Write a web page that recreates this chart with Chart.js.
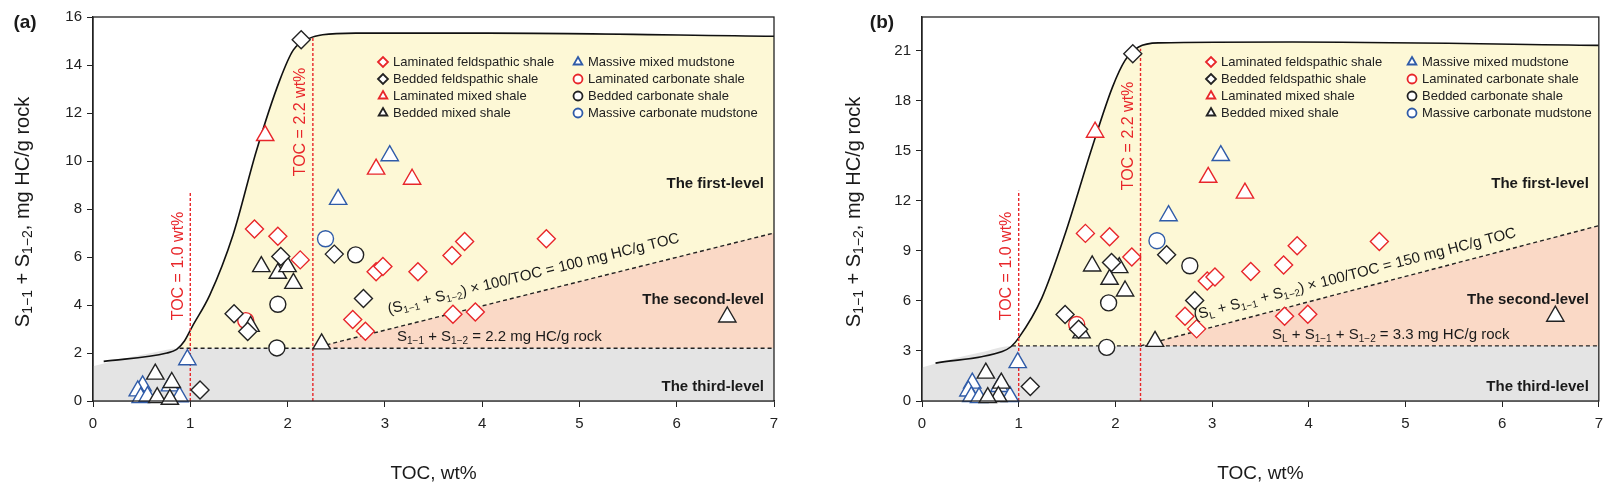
<!DOCTYPE html>
<html>
<head>
<meta charset="utf-8">
<script src="https://cdn.jsdelivr.net/npm/chart.js@4/dist/chart.umd.min.js"></script>
<style>
  body { margin: 0; background: #fff; }
  .wrap { position: absolute; top: 0; height: 484px; }
</style>
</head>
<body>
<div class="wrap" style="left:0;width:806px"><canvas id="chartA" width="806" height="484"></canvas></div>
<div class="wrap" style="left:806px;width:805px"><canvas id="chartB" width="805" height="484"></canvas></div>
<script>
// ---- data ----
const xTicks = [0, 1, 2, 3, 4, 5, 6, 7];
const yTicksA = [0, 2, 4, 6, 8, 10, 12, 14, 16];
const yTicksB = [0, 3, 6, 9, 12, 15, 18, 21];

const seriesNames = ['Laminated feldspathic shale', 'Bedded feldspathic shale', 'Laminated mixed shale', 'Bedded mixed shale',
    'Massive mixed mudstone', 'Laminated carbonate shale', 'Bedded carbonate shale', 'Massive carbonate mudstone'];

// panel (a)
const lamFeldA = [[1.66,7.17],[1.90,6.86],[2.13,5.88],[2.67,3.40],[2.80,2.91],[2.91,5.39],[2.98,5.60],[3.34,5.39],[3.69,6.06],[3.82,6.65],[3.70,3.61],[3.93,3.71],[4.66,6.76]];
const bedFeldA = [[2.14,15.05],[1.93,6.02],[2.48,6.12],[2.78,4.27],[1.45,3.64],[1.59,2.90],[1.10,0.46]];
const lamMixA = [[1.77,11.06],[2.91,9.66],[3.28,9.24]];
const bedMixA = [[1.73,5.60],[1.90,5.32],[2.00,5.60],[2.06,4.90],[1.62,3.11],[2.35,2.38],[0.64,1.12],[0.81,0.77],[0.66,0.14],[0.79,0.07],[6.52,3.50]];
const masMixA = [[2.52,8.40],[3.05,10.22],[0.97,1.72],[0.51,0.63],[0.46,0.42],[0.49,0.14],[0.56,0.18],[0.79,0.63],[0.89,0.18]];
const lamCarbA = [[1.57,3.35]];
const bedCarbA = [[1.90,4.03],[2.70,6.09],[1.89,2.21]];
const masCarbA = [[2.39,6.76]];
const curveA = [[0.11,1.65],[0.76,2.00],[0.86,2.15],[0.94,2.5],[1.02,3.1],[1.2,4.41],[1.44,6.93],[1.68,10.43],[1.92,13.37],[2.06,14.63],[2.23,15.12],[2.36,15.26],[2.7,15.33],[4.06,15.33],[7,15.2]];
const greyTopA = [[0,1.45],[0.3,1.75],[0.6,2.0],[0.89,2.2],[7,2.2]];
const levelA = 2.2;   // S1-1 + S1-2 = 2.2
const ratioA = 1.0;   // 100 mg HC/g TOC
const tocLine1A = 8.75, tocLine2A = 15.15;

// panel (b)
const lamFeldB = [[1.69,10.04],[1.94,9.84],[2.17,8.63],[2.95,7.19],[3.03,7.43],[3.40,7.75],[3.74,8.15],[3.88,9.30],[4.73,9.56],[2.72,5.08],[2.84,4.32],[3.75,5.07],[3.99,5.19]];
const bedFeldB = [[2.18,20.8],[1.96,8.29],[2.53,8.76],[2.82,6.02],[1.48,5.18],[1.62,4.30],[1.12,0.87]];
const lamMixB = [[1.79,16.1],[2.96,13.4],[3.34,12.45]];
const bedMixB = [[1.76,8.09],[2.04,7.99],[1.94,7.29],[2.10,6.59],[1.65,4.08],[2.41,3.57],[0.66,1.67],[0.82,1.07],[0.79,0.26],[0.68,0.20],[6.55,5.08]];
const masMixB = [[2.55,11.1],[3.09,14.7],[0.99,2.30],[0.52,1.07],[0.48,0.60],[0.51,0.26],[0.59,0.20],[0.80,0.87],[0.91,0.26]];
const lamCarbB = [[1.60,4.58]];
const bedCarbB = [[1.93,5.88],[2.77,8.10],[1.91,3.21]];
const masCarbB = [[2.43,9.60]];
const curveB = [[0.14,2.27],[0.83,2.97],[0.92,3.25],[1.0,3.78],[1.24,6.18],[1.48,10.0],[1.76,15.2],[1.97,18.8],[2.1,20.4],[2.24,21.2],[2.45,21.45],[3.83,21.5],[7,21.3]];
const greyTopB = [[0,2.0],[0.3,2.5],[0.6,2.9],[0.93,3.3],[7,3.3]];
const levelB = 3.3;
const ratioB = 1.5;   // 150 mg HC/g TOC
const tocLine1B = 12.6, tocLine2B = 21.1;

const toc1 = 1.0, toc2 = 2.26;

const RED = '#e8262a', BLACK = '#222222', BLUE = '#2f5ba8';
const FONT = '"Liberation Sans", Arial, sans-serif';

function pts(arr) { return arr.map(p => ({ x: p[0], y: p[1] })); }

const markerStyles = [
    { style: 'rectRot', color: RED, r: 9 },
    { style: 'rectRot', color: BLACK, r: 9 },
    { style: 'triangle', color: RED, r: 10 },
    { style: 'triangle', color: BLACK, r: 10 },
    { style: 'triangle', color: BLUE, r: 10 },
    { style: 'circle', color: RED, r: 8 },
    { style: 'circle', color: BLACK, r: 8 },
    { style: 'circle', color: BLUE, r: 8 }
];

// draw text with subscript parts: [[text, isSub], ...]
function richWidth(ctx, parts, size) {
    let w = 0;
    parts.forEach(p => {
        ctx.font = (p[1] ? Math.round(size * 0.68) : size) + 'px ' + FONT;
        w += ctx.measureText(p[0]).width;
    });
    return w;
}
function drawRich(ctx, parts, x, y, size, align) {
    let w = richWidth(ctx, parts, size);
    let cx = align === 'center' ? x - w / 2 : (align === 'right' ? x - w : x);
    ctx.textBaseline = 'middle';
    ctx.textAlign = 'left';
    parts.forEach(p => {
        ctx.font = (p[1] ? Math.round(size * 0.68) : size) + 'px ' + FONT;
        ctx.fillText(p[0], cx, p[1] ? y + size * 0.28 : y);
        cx += ctx.measureText(p[0]).width;
    });
}

function makePanel(id, o) {
    const scatterSets = o.series.map((s, i) => ({
        type: 'scatter',
        label: seriesNames[i],
        data: pts(s),
        pointStyle: markerStyles[i].style,
        pointRadius: markerStyles[i].r,
        pointBackgroundColor: '#ffffff',
        pointBorderColor: markerStyles[i].color,
        pointBorderWidth: 1.4,
        clip: false,
        order: 1
    }));
    const yellowPts = o.curve.filter(p => p[1] >= o.level - 0.06);
    const regionSets = [
        { data: pts(yellowPts), backgroundColor: '#fdf8d6', fill: { value: o.level }, borderWidth: 0, order: 9, cubicInterpolationMode: 'monotone' },
        { data: [{ x: toc2, y: o.level }, { x: 7, y: 7 * o.ratio }], backgroundColor: '#fad9c6', fill: { value: o.level }, borderWidth: 0, order: 8 },
        { data: pts(o.greyTop), backgroundColor: '#e4e4e4', fill: 'origin', borderWidth: 0, order: 7, cubicInterpolationMode: 'monotone' },
        { data: pts(o.curve), borderColor: '#111', borderWidth: 1.6, fill: false, order: 5, cubicInterpolationMode: 'monotone' },
        { data: [{ x: o.greyTop[3][0], y: o.level }, { x: 7, y: o.level }], borderColor: '#222', borderWidth: 1.4, borderDash: [4, 3], fill: false, order: 5 },
        { data: [{ x: toc2, y: o.level }, { x: 7, y: 7 * o.ratio }], borderColor: '#222', borderWidth: 1.4, borderDash: [4, 3], fill: false, order: 5 },
        { data: [{ x: toc1, y: 0 }, { x: toc1, y: o.top1 }], borderColor: RED, borderWidth: 1.4, borderDash: [3, 2], fill: false, order: 4 },
        { data: [{ x: toc2, y: 0 }, { x: toc2, y: o.top2 }], borderColor: RED, borderWidth: 1.4, borderDash: [3, 2], fill: false, order: 4 }
    ].map(d => Object.assign({ type: 'line', pointRadius: 0, label: '' }, d));

    const overlay = {
        id: 'overlay',
        afterDraw(chart) {
            const ctx = chart.ctx;
            const a = chart.chartArea;
            ctx.save();
            // frame
            ctx.strokeStyle = '#222';
            ctx.lineWidth = 1.3;
            ctx.strokeRect(a.left, a.top, a.right - a.left, a.bottom - a.top);
            ctx.fillStyle = '#1a1a1a';
            // panel letter
            ctx.font = 'bold 19px ' + FONT;
            ctx.textAlign = 'center';
            ctx.textBaseline = 'middle';
            ctx.fillText(o.letter, o.letterX, 23);
            // x title
            ctx.font = '19px ' + FONT;
            ctx.fillText('TOC, wt%', (a.left + a.right) / 2, 474);
            // y title
            ctx.save();
            ctx.translate(o.yTitleX, 212);
            ctx.rotate(-Math.PI / 2);
            drawRich(ctx, [['S', 0], ['1\u22121', 1], [' + S', 0], ['1\u22122', 1], [', mg HC/g rock', 0]], 0, 0, 20, 'center');
            ctx.restore();
            // legend
            seriesNames.forEach((n, i) => {
                const col = i < 4 ? 0 : 1;
                const row = i % 4;
                const mx = o.legX[col], my = o.legY + row * 17;
                const m = markerStyles[i];
                ctx.fillStyle = '#fff'; ctx.strokeStyle = m.color; ctx.lineWidth = 1.8;
                Chart.helpers.drawPoint(ctx, { pointStyle: m.style, radius: m.style === 'circle' ? 4.5 : 5, borderWidth: 1.8 }, mx, my);
                ctx.fillStyle = '#222';
                ctx.font = '13px ' + FONT;
                ctx.textAlign = 'left';
                ctx.textBaseline = 'middle';
                ctx.fillText(n, mx + 10, my);
            });
            // level labels
            const xs = chart.scales.x, ys = chart.scales.y;
            ctx.fillStyle = '#1a1a1a';
            ctx.font = 'bold 15px ' + FONT;
            ctx.textAlign = 'right';
            ctx.fillText('The first-level', a.right - 10, 184);
            ctx.fillText('The second-level', a.right - 10, 300);
            ctx.fillText('The third-level', a.right - 10, 387);
            // TOC labels
            ctx.fillStyle = RED;
            ctx.font = '16px ' + FONT;
            ctx.textAlign = 'center';
            [[toc1, o.tocLab1], [toc2, o.tocLab2]].forEach(t => {
                ctx.save();
                ctx.translate(xs.getPixelForValue(t[0]) - 12, t[1][1]);
                ctx.rotate(-Math.PI / 2);
                ctx.fillText(t[1][0], 0, 0);
                ctx.restore();
            });
            // formulas
            ctx.fillStyle = '#1a1a1a';
            drawRich(ctx, o.levelText, o.levelTextX, ys.getPixelForValue(o.level) - 11, 15, 'left');
            const x0 = xs.getPixelForValue(2.8), x1 = xs.getPixelForValue(6.6);
            const ang = Math.atan2(ys.getPixelForValue(6.6 * o.ratio) - ys.getPixelForValue(2.8 * o.ratio), x1 - x0);
            ctx.save();
            ctx.translate(o.slopeX, o.slopeY);
            ctx.rotate(ang);
            drawRich(ctx, o.slopeText, 0, 0, 15, 'left');
            ctx.restore();
            ctx.restore();
        }
    };

    return new Chart(document.getElementById(id), {
        type: 'scatter',
        data: { datasets: regionSets.concat(scatterSets) },
        options: {
            responsive: false,
            animation: false,
            layout: { padding: { left: 0, right: o.padRight, top: 17, bottom: 0 } },
            plugins: { legend: { display: false }, tooltip: { enabled: false } },
            scales: {
                x: {
                    type: 'linear', min: 0, max: 7,
                    afterBuildTicks: s => { s.ticks = xTicks.map(v => ({ value: v })); },
                    afterFit: s => { s.height = 83; },
                    grid: { drawOnChartArea: false, drawTicks: true, tickLength: 6, color: '#222' },
                    border: { color: '#222', width: 1.3 },
                    ticks: { color: '#222', font: { size: 15, family: FONT }, padding: 8 }
                },
                y: {
                    type: 'linear', min: 0, max: o.yMax,
                    afterBuildTicks: s => { s.ticks = o.yTicks.map(v => ({ value: v })); },
                    afterFit: s => { s.width = o.yWidth; },
                    grid: { drawOnChartArea: false, drawTicks: true, tickLength: 6, color: '#222' },
                    border: { color: '#222', width: 1.3 },
                    ticks: { color: '#222', font: { size: 15, family: FONT }, padding: 5 }
                }
            }
        },
        plugins: [overlay]
    });
}

makePanel('chartA', {
    series: [lamFeldA, bedFeldA, lamMixA, bedMixA, masMixA, lamCarbA, bedCarbA, masCarbA],
    curve: curveA, greyTop: greyTopA, level: levelA, ratio: ratioA, top1: tocLine1A, top2: tocLine2A,
    yMax: 16, yTicks: yTicksA, yWidth: 93, padRight: 32,
    letter: '(a)', letterX: 25, yTitleX: 23,
    legX: [383, 578], legY: 62,
    tocLab1: ['TOC = 1.0 wt%', 266], tocLab2: ['TOC = 2.2 wt%', 122],
    levelText: [['S', 0], ['1\u22121', 1], [' + S', 0], ['1\u22122', 1], [' = 2.2 mg HC/g rock', 0]], levelTextX: 397,
    slopeText: [['(S', 0], ['1\u22121', 1], [' + S', 0], ['1\u22122', 1], [') \u00d7 100/TOC = 100 mg HC/g TOC', 0]],
    slopeX: 388, slopeY: 310
});

makePanel('chartB', {
    series: [lamFeldB, bedFeldB, lamMixB, bedMixB, masMixB, lamCarbB, bedCarbB, masCarbB],
    curve: curveB, greyTop: greyTopB, level: levelB, ratio: ratioB, top1: tocLine1B, top2: tocLine2B,
    yMax: 23, yTicks: yTicksB, yWidth: 116, padRight: 8,
    letter: '(b)', letterX: 76, yTitleX: 48,
    legX: [405, 606], legY: 62,
    tocLab1: ['TOC = 1.0 wt%', 266], tocLab2: ['TOC = 2.2 wt%', 136],
    levelText: [['S', 0], ['L', 1], [' + S', 0], ['1\u22121', 1], [' + S', 0], ['1\u22122', 1], [' = 3.3 mg HC/g rock', 0]], levelTextX: 466,
    slopeText: [['(S', 0], ['L', 1], [' + S', 0], ['1\u22121', 1], [' + S', 0], ['1\u22122', 1], [') \u00d7 100/TOC = 150 mg HC/g TOC', 0]],
    slopeX: 388, slopeY: 316
});
</script>
</body>
</html>
